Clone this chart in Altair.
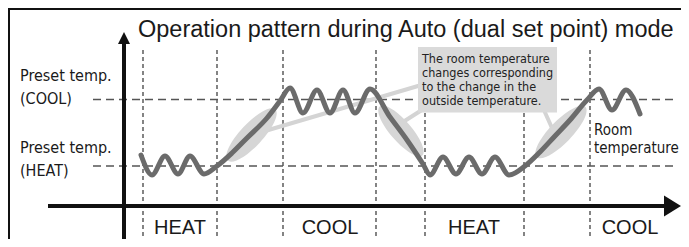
import altair as alt
import pandas as pd

# ---------------- data (t: time from the vertical axis, T: temperature above the HEAT set point)
curve_t = [17, 28, 41, 54, 66, 80, 93, 108, 123, 143, 156, 166, 179, 193, 206, 219, 231,
           246, 266, 283, 299, 306, 319, 332, 345, 358, 371, 385, 401, 416, 431, 446, 463,
           475, 488, 502, 516]
curve_T = [11, -9, 10, -8, 10, -8, 0, 13, 28, 48, 65, 78, 53, 76, 53, 76, 53,
           77, 49, 26, 2, -9, 9, -8, 9, -8, 9, -9, 0, 14, 30, 46, 66,
           77, 56, 76, 52]

preset_names = ["Preset temp.\n(COOL)", "Preset temp.\n(HEAT)"]
preset_T = [66.5, 0]
switch_t = [19, 93, 159, 252, 301, 400, 466]
mode_labels = ["HEAT", "COOL", "HEAT", "COOL"]
mode_t = [56, 206, 350, 506]

title_text = "Operation pattern during Auto (dual set point) mode"
note_text = "The room temperature\nchanges corresponding\nto the change in the\noutside temperature."
curve_label = "Room\ntemperature"

# highlight ellipses on the slopes: centre, length, angle
hl_t = [127.5, 277, 437]
hl_T = [31, 35, 34]
hl_len = [70, 65, 70]
hl_angle = [313, 49, 314]
# connector lines from the note box to the highlights
con_t = [141, 279, 419]
con_T = [35, 44, 58]
con_t2 = [294, 301, 428]
con_T2 = [80, 58, 38]

# ---------------- layout
T_MIN, T_MAX = -73, 158
t_MIN, t_MAX = -116, 557
X = alt.Scale(domain=[t_MIN, t_MAX], nice=False, zero=False)
Y = alt.Scale(domain=[T_MIN, T_MAX], nice=False, zero=False)
NARROW = "DejaVu Sans Condensed, Liberation Sans Narrow, Liberation Sans"
REG = "Liberation Sans, Arial, Helvetica"


def xq(f):
    return alt.X(f + ":Q", scale=X, axis=None)


def yq(f):
    return alt.Y(f + ":Q", scale=Y, axis=None)


# frame
frame = pd.DataFrame({"t": [t_MIN, t_MIN + 0.5], "t2": [t_MAX, t_MIN + 0.5],
                      "T": [T_MAX - 0.5, T_MAX], "T2": [T_MAX - 0.5, T_MIN]})
frame_layer = alt.Chart(frame).mark_rule(color="#111", strokeWidth=3).encode(
    x=xq("t"), x2="t2", y=yq("T"), y2="T2")

# vertical dashed switch lines
sw = pd.DataFrame({"t": switch_t, "T": [116] * len(switch_t), "T2": [T_MIN] * len(switch_t)})
sw_layer = alt.Chart(sw).mark_rule(color="#333", strokeWidth=1.2, strokeDash=[4, 3]).encode(
    x=xq("t"), y=yq("T"), y2="T2")

# horizontal dashed preset lines
pr = pd.DataFrame({"T": preset_T, "t": [-31] * 2, "t2": [550] * 2})
pr_layer = alt.Chart(pr).mark_rule(color="#555", strokeWidth=1.6, strokeDash=[8, 5]).encode(
    x=xq("t"), x2="t2", y=yq("T"))

# connectors
con = pd.DataFrame({"t": con_t, "T": con_T, "t2": con_t2, "T2": con_T2})
con_layer = alt.Chart(con).mark_rule(color="#d4d4d4", strokeWidth=4, strokeCap="round").encode(
    x=xq("t"), x2="t2", y=yq("T"), y2="T2")

# ellipses
ELLIPSE = ("M-1,0C-1,-0.177,-0.552,-0.32,0,-0.32C0.552,-0.32,1,-0.177,1,0"
           "C1,0.177,0.552,0.32,0,0.32C-0.552,0.32,-1,0.177,-1,0Z")
hl = pd.DataFrame({"t": hl_t, "T": hl_T, "size": [v * v for v in hl_len], "angle": hl_angle})
hl_layer = alt.Chart(hl).mark_point(shape=ELLIPSE, filled=True, color="#d6d6d6", opacity=1,
                                    strokeWidth=0).encode(
    x=xq("t"), y=yq("T"), size=alt.Size("size:Q", scale=None, legend=None),
    angle=alt.Angle("angle:Q", scale=None))

# note box
box = pd.DataFrame({"t": [294], "t2": [433], "T": [119], "T2": [53.5]})
box_layer = alt.Chart(box).mark_rect(color="#dadada").encode(
    x=xq("t"), x2="t2", y=yq("T"), y2="T2")
note = pd.DataFrame({"t": [298], "T": [103.3], "txt": [note_text]})
note_layer = alt.Chart(note).mark_text(align="left", baseline="alphabetic", font=NARROW,
                                       fontSize=12.5, lineBreak="\n", lineHeight=14.2,
                                       color="#222").encode(
    x=xq("t"), y=yq("T"), text="txt:N")

# curve
cv = pd.DataFrame({"t": curve_t, "T": curve_T})
cv_layer = alt.Chart(cv).mark_line(interpolate="monotone", color="#6b6b6b", strokeWidth=5,
                                   strokeCap="round", strokeJoin="round").encode(
    x=xq("t"), y=yq("T"), order="t:Q")

# axes
ax = pd.DataFrame({"t": [0, -76], "t2": [0, 540], "T": [122, -40], "T2": [T_MIN, -40]})
ax_layer = alt.Chart(ax).mark_rule(color="#111", strokeWidth=4).encode(
    x=xq("t"), x2="t2", y=yq("T"), y2="T2")
up = pd.DataFrame({"t": [0], "T": [128]})
up_layer = alt.Chart(up).mark_point(shape="M0,-1L1,1L-1,1Z", filled=True, color="#111",
                                    opacity=1, size=144, strokeWidth=0).encode(
    x=xq("t"), y=yq("T"))
rt = pd.DataFrame({"t": [548.5], "T": [-40]})
rt_layer = alt.Chart(rt).mark_point(shape="M1,0L-1,-1.235L-1,1.235Z", filled=True, color="#111",
                                    opacity=1, size=289, strokeWidth=0).encode(
    x=xq("t"), y=yq("T"))

# labels
title = pd.DataFrame({"t": [14], "T": [129], "txt": [title_text]})
title_layer = alt.Chart(title).mark_text(align="left", baseline="alphabetic", font=REG,
                                         fontSize=23.5, color="#1a1a1a").encode(
    x=xq("t"), y=yq("T"), text="txt:N")

pl = pd.DataFrame({"t": [-104, -104], "T": [85, 13], "txt": preset_names})
pl_layer = alt.Chart(pl).mark_text(align="left", baseline="alphabetic", font=NARROW,
                                   fontSize=16, lineBreak="\n", lineHeight=23,
                                   color="#1a1a1a").encode(
    x=xq("t"), y=yq("T"), text="txt:N")

ml = pd.DataFrame({"t": mode_t, "T": [-68] * 4, "txt": mode_labels})
ml_layer = alt.Chart(ml).mark_text(align="center", baseline="alphabetic", font=REG,
                                   fontSize=20, color="#1a1a1a").encode(
    x=xq("t"), y=yq("T"), text="txt:N")

rl = pd.DataFrame({"t": [470], "T": [31], "txt": [curve_label]})
rl_layer = alt.Chart(rl).mark_text(align="left", baseline="alphabetic", font=NARROW,
                                   fontSize=15, lineBreak="\n", lineHeight=17.5,
                                   color="#1a1a1a").encode(
    x=xq("t"), y=yq("T"), text="txt:N")

chart = alt.layer(
    frame_layer, sw_layer, pr_layer, con_layer, hl_layer, box_layer, note_layer,
    cv_layer, ax_layer, up_layer, rt_layer, title_layer, pl_layer, ml_layer, rl_layer
).properties(
    width=673, height=231,
    autosize=alt.AutoSizeParams(type="none"),
    padding=0,
).configure_view(stroke=None)

chart.save("out.html", embed_options={"renderer": "svg", "actions": False})
